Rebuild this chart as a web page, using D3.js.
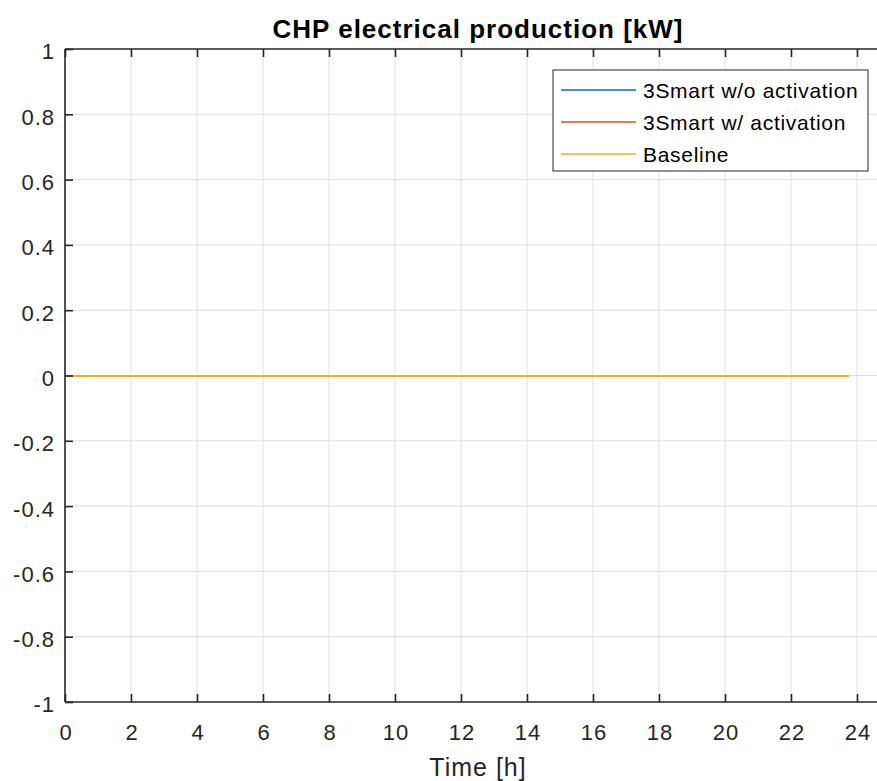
<!DOCTYPE html>
<html><head><meta charset="utf-8">
<script src="https://cdn.jsdelivr.net/npm/d3@7"></script>
<style>body{margin:0;background:#fff;} svg{display:block;font-family:"Liberation Sans",Arial,sans-serif;}</style>
</head><body>
<svg id="c" width="877" height="781"></svg>
<script>
const time = [0, 2, 4, 6, 8, 10, 12, 14, 16, 18, 20, 22, 23.75];
const smartNoAct = [0, 0, 0, 0, 0, 0, 0, 0, 0, 0, 0, 0, 0];
const smartAct = [0, 0, 0, 0, 0, 0, 0, 0, 0, 0, 0, 0, 0];
const baseline = [0, 0, 0, 0, 0, 0, 0, 0, 0, 0, 0, 0, 0];
const seriesNames = ["3Smart w/o activation", "3Smart w/ activation", "Baseline"];
const seriesColors = ["#0072BD", "#D95319", "#EDB120"];
const xTicks = [0,2,4,6,8,10,12,14,16,18,20,22,24];
const yTicks = [-1,-0.8,-0.6,-0.4,-0.2,0,0.2,0.4,0.6,0.8,1];

const svg = d3.select("#c");
const L = 65, R = 890, T = 49, B = 702;
const x = d3.scaleLinear().domain([0, 25]).range([L, R]);
const y = d3.scaleLinear().domain([-1, 1]).range([B, T]);
const ink = "#262626";

// grid
const g = svg.append("g");
g.selectAll(".gx").data(xTicks.slice(1)).enter().append("line")
 .attr("x1", d=>x(d)).attr("x2", d=>x(d)).attr("y1", T).attr("y2", B)
 .attr("stroke", "#dfdfdf").attr("stroke-width", 1);
g.selectAll(".gy").data(yTicks.slice(1,-1)).enter().append("line")
 .attr("y1", d=>y(d)).attr("y2", d=>y(d)).attr("x1", L).attr("x2", R)
 .attr("stroke", "#dfdfdf").attr("stroke-width", 1);

// lines
const allSeries = [smartNoAct, smartAct, baseline];
const line = d3.line().x((d,i)=>x(time[i])).y(d=>y(d));
allSeries.forEach((s, k) => {
  svg.append("path").datum(s).attr("d", line).attr("fill", "none")
    .attr("stroke", seriesColors[k]).attr("stroke-width", 2)
    .attr("shape-rendering", "crispEdges");
});

// axes
const xAxis = d3.axisBottom(x).tickValues(xTicks).tickSize(-8).tickPadding(0).tickFormat(d3.format("d"));
const yAxis = d3.axisLeft(y).tickValues(yTicks).tickSize(-8).tickPadding(10).tickFormat(d => d3.format("")(d).replace("−","-"));
const xa = svg.append("g").attr("transform", `translate(0,${B})`).call(xAxis);
const xt = svg.append("g").attr("transform", `translate(0,${T})`).call(d3.axisTop(x).tickValues(xTicks).tickSize(-8).tickFormat(""));
const ya = svg.append("g").attr("transform", `translate(${L},0)`).call(yAxis);
[xa, xt, ya].forEach(a => {
  a.select(".domain").attr("stroke", ink).attr("stroke-width", 1.6);
  a.selectAll(".tick line").attr("stroke", ink).attr("stroke-width", 1.6);
  a.selectAll(".tick text").attr("fill", ink).attr("font-size", 22).attr("letter-spacing", 1)
   .attr("font-family", "Liberation Sans, Arial, sans-serif");
});
xa.select(".domain").attr("d", `M${L},0H${R}`);
xt.select(".domain").attr("d", `M${L},0H${R}`);
ya.select(".domain").attr("d", `M0,${T}V${B}`);
ya.selectAll(".tick text").attr("dy", "0.45em");
xa.selectAll(".tick text").attr("y", 38).attr("dy", 0).attr("dx", 0.5);

// title and labels
svg.append("text").attr("x", 478).attr("y", 38).attr("text-anchor", "middle")
  .attr("font-size", 26).attr("letter-spacing", 1).attr("font-weight", "bold").attr("fill", "#000")
  .text("CHP electrical production [kW]");
svg.append("text").attr("x", 478).attr("y", 776).attr("text-anchor", "middle")
  .attr("font-size", 25).attr("letter-spacing", 1).attr("fill", ink).text("Time [h]");

// legend
const lg = svg.append("g");
lg.append("rect").attr("x", 553).attr("y", 70).attr("width", 315).attr("height", 101)
  .attr("fill", "#fff").attr("stroke", ink).attr("stroke-width", 1);
seriesNames.forEach((n, k) => {
  const yy = 90 + k * 32;
  lg.append("line").attr("x1", 561).attr("x2", 636).attr("y1", yy).attr("y2", yy)
    .attr("stroke", seriesColors[k]).attr("stroke-width", 1.5);
  lg.append("text").attr("x", 643).attr("y", yy).attr("dy", "0.36em")
    .attr("font-size", 21).attr("letter-spacing", 0.7).attr("fill", "#000").text(n);
});
</script>
</body></html>
